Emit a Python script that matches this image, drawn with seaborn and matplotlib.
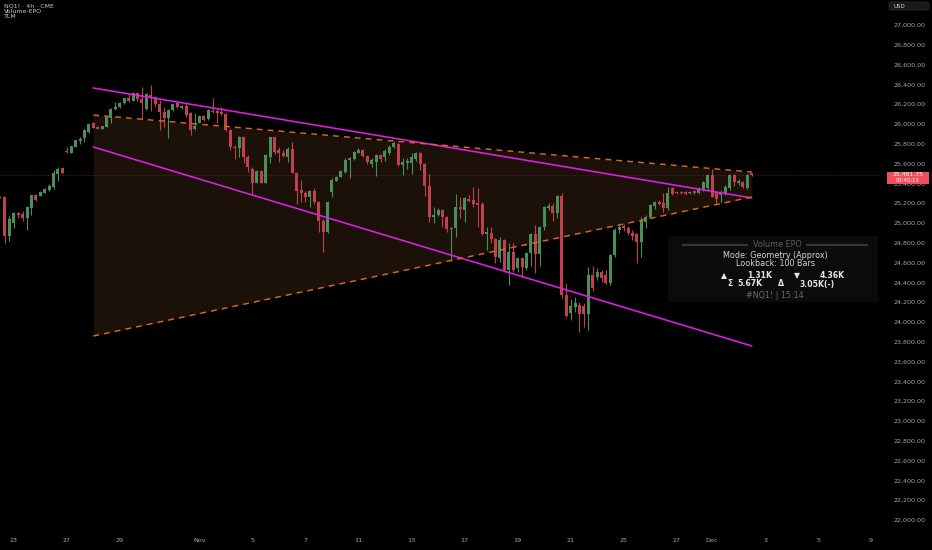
import matplotlib
matplotlib.use("Agg")
import matplotlib.pyplot as plt
import numpy as np
import pandas as pd
import seaborn as sns
from matplotlib.patches import FancyBboxPatch, Rectangle


# NQ1! 4h candles (oldest first)
open_ = [
    25266, 25259, 24868, 25003, 25097, 25090, 25050, 25151, 25282, 25276,
    25306, 25333, 25367, 25495, 25552, 25725, 25710, 25771, 25831, 25855,
    25915, 26006, 25973, 25952, 25973, 26064, 26148, 26168, 26208, 26262,
    26235, 26316, 26255, 26148, 26296, 26269, 26202, 26124, 26060, 26141,
    26208, 26158, 26181, 26107, 25946, 26013, 26080, 26047, 26134, 26134,
    26124, 26101, 25939, 25771, 25754, 25872, 25663, 25545, 25407, 25528,
    25407, 25670, 25865, 25737, 25710, 25670, 25747, 25508, 25333, 25306,
    25266, 25326, 25215, 25020, 24912, 25316, 25427, 25468, 25518, 25636,
    25643, 25710, 25737, 25676, 25596, 25620, 25687, 25664, 25711, 25765,
    25799, 25586, 25603, 25610, 25644, 25711, 25597, 25374, 25058, 25081,
    25132, 25058, 24937, 24947, 25166, 25132, 25243, 25233, 25199, 25193,
    24890, 24903, 24836, 24644, 24829, 24526, 24708, 24543, 24644, 24543,
    24694, 24890, 24688, 24957, 25149, 25172, 25105, 25273, 24273, 24094,
    24155, 24171, 24161, 24081, 24474, 24458, 24508, 24474, 24390, 24676,
    24929, 24969, 24946, 24902, 24885, 24811, 25013, 25057, 25171, 25215,
    25198, 25148, 25350, 25316, 25316, 25316, 25299, 25326, 25299, 25340,
    25350, 25484, 25316, 25283, 25299, 25350, 25484, 25400, 25417, 25350,
    25501,
]
high = [
    25275, 25266, 25071, 25111, 25111, 25124, 25171, 25286, 25293, 25320,
    25350, 25390, 25535, 25562, 25560, 25764, 25780, 25840, 25865, 25946,
    26013, 26020, 25976, 25980, 26080, 26158, 26225, 26222, 26265, 26303,
    26323, 26323, 26377, 26310, 26393, 26282, 26242, 26175, 26148, 26208,
    26215, 26190, 26202, 26124, 26114, 26087, 26090, 26148, 26259, 26148,
    26175, 26107, 25946, 25787, 25878, 25878, 25686, 25562, 25535, 25535,
    25697, 25872, 25872, 25771, 25737, 25771, 25818, 25518, 25434, 25326,
    25333, 25350, 25225, 25037, 25225, 25451, 25475, 25535, 25653, 25670,
    25725, 25754, 25744, 25686, 25653, 25698, 25698, 25745, 25788, 25832,
    25812, 25654, 25654, 25711, 25721, 25721, 25610, 25496, 25159, 25149,
    25139, 25071, 24957, 25294, 25267, 25267, 25283, 25361, 25351, 25216,
    24957, 24957, 24846, 24863, 24836, 24802, 24795, 24661, 24661, 24711,
    24896, 24980, 24970, 25172, 25206, 25199, 25283, 25307, 24390, 24229,
    24256, 24205, 24188, 24559, 24565, 24542, 24525, 24525, 24687, 24946,
    24979, 24990, 24969, 24929, 24902, 25064, 25080, 25192, 25225, 25232,
    25299, 25367, 25360, 25322, 25320, 25320, 25320, 25330, 25360, 25427,
    25495, 25542, 25326, 25333, 25383, 25495, 25495, 25441, 25427, 25495,
    25510,
]
low = [
    25255, 24801, 24821, 24946, 25047, 25023, 24929, 25080, 25225, 25270,
    25300, 25326, 25340, 25427, 25495, 25703, 25705, 25765, 25794, 25821,
    25912, 25956, 25946, 25948, 25966, 26006, 26141, 26160, 26200, 26225,
    26228, 26235, 26047, 26140, 26134, 26175, 25939, 25966, 25855, 26135,
    26160, 26150, 26074, 25888, 25939, 26006, 26035, 26040, 26114, 26013,
    26090, 25932, 25737, 25643, 25663, 25602, 25518, 25282, 25400, 25400,
    25400, 25609, 25697, 25619, 25663, 25619, 25501, 25191, 25215, 25215,
    25158, 25191, 24912, 24710, 24895, 25266, 25420, 25460, 25501, 25451,
    25636, 25703, 25670, 25596, 25562, 25475, 25620, 25630, 25687, 25755,
    25576, 25485, 25543, 25496, 25630, 25536, 25273, 25014, 24997, 25071,
    24964, 24913, 24620, 24863, 25048, 25014, 25216, 25166, 24957, 24879,
    24728, 24795, 24600, 24610, 24509, 24374, 24509, 24509, 24442, 24526,
    24566, 24499, 24566, 24930, 25132, 25024, 25048, 24240, 24054, 24020,
    24104, 23902, 23953, 23919, 24316, 24424, 24407, 24384, 24373, 24660,
    24902, 24922, 24878, 24828, 24599, 24660, 24946, 25047, 25138, 25181,
    25114, 25131, 25286, 25293, 25295, 25288, 25295, 25295, 25293, 25326,
    25333, 25259, 25198, 25215, 25283, 25333, 25373, 25383, 25350, 25340,
    25478,
]
close = [
    25259, 24868, 25037, 25097, 25080, 25050, 25158, 25279, 25232, 25313,
    25343, 25377, 25501, 25545, 25501, 25715, 25777, 25835, 25851, 25939,
    25999, 25963, 25952, 25976, 26067, 26148, 26175, 26215, 26259, 26229,
    26316, 26249, 26215, 26303, 26269, 26202, 26121, 26060, 26141, 26202,
    26168, 26185, 26087, 25939, 25979, 26080, 26040, 26141, 26121, 26107,
    26101, 25939, 25771, 25754, 25872, 25663, 25569, 25407, 25528, 25407,
    25686, 25865, 25720, 25710, 25676, 25744, 25508, 25326, 25306, 25259,
    25326, 25215, 25020, 24912, 25215, 25434, 25468, 25528, 25636, 25653,
    25720, 25737, 25676, 25619, 25636, 25687, 25644, 25731, 25772, 25805,
    25586, 25620, 25630, 25664, 25711, 25597, 25374, 25058, 25081, 25132,
    25058, 24937, 24947, 25166, 25139, 25250, 25226, 25193, 25182, 24890,
    24913, 24836, 24654, 24829, 24526, 24711, 24526, 24644, 24553, 24701,
    24890, 24688, 24957, 25166, 25172, 25105, 25273, 24273, 24061, 24161,
    24188, 24081, 24081, 24474, 24340, 24508, 24441, 24397, 24676, 24929,
    24963, 24946, 24895, 24868, 24811, 25030, 25064, 25181, 25215, 25192,
    25148, 25306, 25293, 25299, 25299, 25293, 25316, 25299, 25350, 25417,
    25484, 25266, 25239, 25316, 25367, 25484, 25417, 25427, 25367, 25484,
    25482,
]

# first bar of each day on the time axis
day_bars = [3, 15, 27, 45, 57, 69, 81, 93, 105, 117, 129, 141, 153, 161, 173, 185, 197]
day_labels = ["23", "27", "29", "Nov", "5", "7", "11", "13", "17", "19", "21",
              "25", "27", "Dec", "3", "5", "9"]

# drawn lines: start / end bar and price
line_bars = [21, 170]
upper_trend = [26364, 25253]
lower_trend = [25768, 23758]
wedge_top = [26091, 25515]
wedge_bottom = [23859, 25263]

price_ticks = list(range(22000, 27001, 200))
last_price = 25481.75
countdown = "02:45:15"

BG = "#000000"
GREEN = "#4a8f58"
RED = "#bf414d"
MAGENTA = "#e01ee6"
ORANGE = "#d8691f"
TXT = "#a3a6af"

sns.set_theme(style="dark", rc={"axes.facecolor": BG, "figure.facecolor": BG})
plt.rcParams["font.family"] = ["DejaVu Sans"]

fig = plt.figure(figsize=(9.32, 5.5), dpi=100)
ax = fig.add_axes([0, 18 / 550, 880 / 932, 532 / 550])
ax.set_facecolor(BG)

W, H = 880.0, 532.0


def px(x, y):
    # pixel inside the pane -> axes fraction
    return x / W, 1 - y / H


df = pd.DataFrame({"open": open_, "high": high, "low": low, "close": close})
df["bar"] = np.arange(len(df))
up = df["close"] >= df["open"]
colors = np.where(up, GREEN, RED)

# wedge fill between the dashed lines
ax.fill_between(line_bars, wedge_bottom, wedge_top, color="#1b1109", lw=0, zorder=0)

# candles
ax.vlines(df["bar"], df["low"], df["high"], colors=colors, lw=0.8, zorder=2)
body_low = df[["open", "close"]].min(axis=1)
body_h = np.maximum((df["close"] - df["open"]).abs(), 8)
ax.bar(df["bar"], body_h, bottom=body_low, width=0.68, color=colors, lw=0, zorder=3)

# trend lines
sns.lineplot(x=line_bars, y=upper_trend, color=MAGENTA, lw=1.15, ax=ax, zorder=4)
sns.lineplot(x=line_bars, y=lower_trend, color=MAGENTA, lw=1.15, ax=ax, zorder=4)
ax.plot(line_bars, wedge_top, color=ORANGE, lw=1.05, ls=(0, (4, 3.5)), zorder=4)
ax.plot(line_bars, wedge_bottom, color=ORANGE, lw=1.05, ls=(0, (4, 3.5)), zorder=4)

# last price line
ax.axhline(last_price, color="#6e2730", lw=0.6, ls=(0, (1, 2)), zorder=1)

ax.set_xlim(-0.11, 199.0)
ax.set_ylim(21879.3, 27252.5)
for s in ax.spines.values():
    s.set_visible(False)
ax.grid(False)

ax.set_xticks(day_bars)
ax.set_xticklabels(day_labels)
ax.set_yticks(price_ticks)
ax.set_yticklabels([f"{v:,.2f}" for v in price_ticks])
ax.yaxis.tick_right()
ax.tick_params(axis="y", length=0, pad=9.5, labelsize=4.6, labelcolor=TXT)
ax.tick_params(axis="x", length=0, pad=4.5, labelsize=4.6, labelcolor=TXT)

# last price tag on the scale
tf = ax.get_yaxis_transform()
ax.add_patch(Rectangle((1.0079, last_price - 85), 0.0477, 122, transform=tf,
                       facecolor="#ef4f5d", edgecolor="none", clip_on=False, zorder=6))
ax.text(1.0318, last_price + 8, f"{last_price:,.2f}", transform=tf, ha="center",
        va="center", fontsize=4.4, color="white", clip_on=False, zorder=7)
ax.text(1.0318, last_price - 52, countdown, transform=tf, ha="center",
        va="center", fontsize=3.9, color="white", clip_on=False, zorder=7)

# Volume EPO table
ax.add_patch(Rectangle(px(668, 302), 210 / W, 66 / H, transform=ax.transAxes,
                       facecolor="#0b0b0b", edgecolor="none", zorder=5))
for x0, x1 in [(682, 748), (806, 868)]:
    ax.plot([x0 / W, x1 / W], [1 - 244.7 / H] * 2, transform=ax.transAxes,
            color="#363636", lw=1.6, zorder=6, solid_capstyle="butt")
ax.text(*px(777, 244.5), "Volume EPO", transform=ax.transAxes, ha="center",
        va="center", fontsize=5.8, color="#5e5e5e", zorder=6)
ax.text(*px(775, 255.5), "Mode: Geometry (Approx)", transform=ax.transAxes,
        ha="center", va="center", fontsize=5.8, color="#d1d4dc", zorder=6)
ax.text(*px(775, 264), "Lookback: 100 Bars", transform=ax.transAxes,
        ha="center", va="center", fontsize=5.8, color="#d1d4dc", zorder=6)
row1 = [(724, "▲"), (760, "1.31K"), (797, "▼"), (832, "4.36K")]
row2 = [(730, "Σ"), (750, "5.67K"), (781, "Δ"), (817, "3.05K(-)")]
for x, t in row1:
    ax.text(*px(x, 275.5), t, transform=ax.transAxes, ha="center", va="center",
            fontsize=5.6, color="#e6e6e6", fontweight="bold", zorder=6)
for x, t in row2:
    ax.text(*px(x, 284), t, transform=ax.transAxes, ha="center", va="center",
            fontsize=5.6, color="#e6e6e6", fontweight="bold", zorder=6)
ax.text(*px(775, 296), "#NQ1! | 15:14", transform=ax.transAxes, ha="center",
        va="center", fontsize=5.8, color="#6a6a6a", zorder=6)

# legend lines top-left
for i, t in enumerate(["NQ1! · 4h · CME", "Volume-EPO", "TLM"]):
    fig.text(4 / 932, 1 - (5.5 + 5.7 * i) / 550, t, ha="left", va="center",
             fontsize=4.5, color="#c8c8c8")

# currency box
fig.patches.append(FancyBboxPatch((889 / 932, 1 - 10 / 550), 40 / 932, 8 / 550,
                                  boxstyle="round,pad=0,rounding_size=0.003",
                                  transform=fig.transFigure, facecolor="#1a1a1a",
                                  edgecolor="#2e2e2e", lw=0.5))
fig.text(893 / 932, 1 - 6 / 550, "USD", ha="left", va="center", fontsize=4,
         color="#d0d0d0")

fig.savefig("out.png", dpi=100, facecolor=BG)
